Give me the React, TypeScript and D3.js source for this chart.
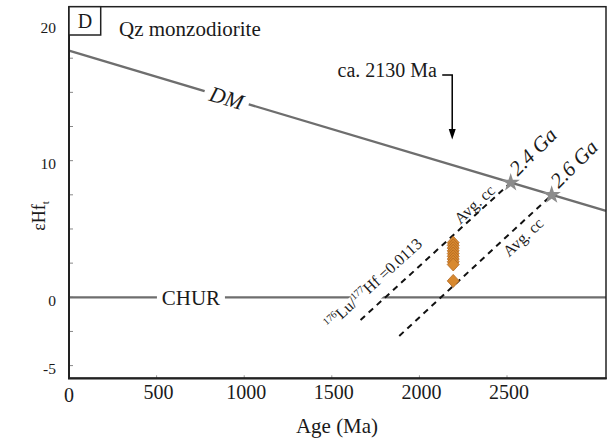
import React from "react";
import * as d3 from "d3";

// ---- data ----
const X_TICKS = [0, 500, 1000, 1500, 2000, 2500];
const Y_TICK_LABELS = [-5, 0, 10, 20];
const Y_MINOR_TICKS = [-5, -2.5, 0, 2.5, 5, 7.5, 10, 12.5, 15, 17.5, 20];
const X_DOMAIN = [0, 3065];
const Y_DOMAIN = [-5.93, 21.27];
const DM_AGE = [0, 3065];
const DM_EHF = [18.05, 6.32];
const CHUR_AGE = [0, 3065];
const CHUR_EHF = [0, 0];
const CC_A_AGE = [1664, 2521];
const CC_A_EHF = [-1.66, 8.39];
const CC_B_AGE = [1885, 2755];
const CC_B_EHF = [-2.83, 7.49];
const STAR_AGE = [2521, 2755];
const STAR_EHF = [8.39, 7.49];
const STAR_LABELS = ["2.4 Ga", "2.6 Ga"];
const SAMPLE_AGE = 2193;
const SAMPLE_EHF = [4.0, 3.8, 3.6, 3.4, 3.2, 3.0, 2.8, 2.6, 2.4, 1.2];

const W = 614;
const H = 443;
const FONT = "'Liberation Serif', 'Times New Roman', serif";
const INK = "#1a1a1a";
const LINE_GRAY = "#6e6e6e";

const x = d3.scaleLinear().domain(X_DOMAIN).range([69, 606]);
const y = d3.scaleLinear().domain(Y_DOMAIN).range([378.3, 6.7]);
const line = d3
  .line<[number, number]>()
  .x((d) => x(d[0]))
  .y((d) => y(d[1]));
const zip = (a: number[], b: number[]): [number, number][] =>
  a.map((v, i) => [v, b[i]] as [number, number]);

// point along a line at a given age, with perpendicular offset (positive = upper side)
function along(ages: number[], vals: number[], age: number, offset: number) {
  const x0 = x(ages[0]), y0 = y(vals[0]);
  const x1 = x(ages[1]), y1 = y(vals[1]);
  const t = (age - ages[0]) / (ages[1] - ages[0]);
  const dx = x1 - x0, dy = y1 - y0;
  const len = Math.hypot(dx, dy);
  const ux = dx / len, uy = dy / len;
  const nx = uy, ny = -ux;
  const sgn = ny < 0 ? 1 : -1;
  return {
    px: x0 + t * dx + sgn * offset * nx,
    py: y0 + t * dy + sgn * offset * ny,
    angle: (Math.atan2(dy, dx) * 180) / Math.PI,
  };
}

export default function App() {
  const dmLab = along(DM_AGE, DM_EHF, 900, 0);
  const churLab = along(CHUR_AGE, CHUR_EHF, 696, 0);
  const luLab = along(CC_A_AGE, CC_A_EHF, 1807, 13);
  const ccA = along(CC_A_AGE, CC_A_EHF, 2347, 8.7);
  const ccB = along(CC_B_AGE, CC_B_EHF, 2547, -11.3);
  const starPath = d3.symbol(d3.symbolStar, 105)() as string;
  const ax = x(SAMPLE_AGE) - 1;

  return (
    <svg
      width={W}
      height={H}
      style={{ position: "absolute", left: 0, top: 0, background: "#fff" }}
      fontFamily={FONT}
    >
      <rect x={0} y={0} width={W} height={H} fill="#fff" />

      {/* y ticks */}
      {Y_MINOR_TICKS.map((t) => (
        <line key={"yt" + t} x1={x(0)} x2={x(0) + 4} y1={y(t)} y2={y(t)} stroke="#888" strokeWidth={1} />
      ))}
      {Y_TICK_LABELS.map((t) => (
        <text key={"yl" + t} x={56} y={y(t) + 4} dy="0.3em" textAnchor="end" fontSize={15.5} fill={INK}>
          {t}
        </text>
      ))}
      {/* x ticks */}
      {X_TICKS.filter((t) => t > 0).map((t) => (
        <line key={"xt" + t} x1={x(t)} x2={x(t)} y1={y(Y_DOMAIN[0])} y2={y(Y_DOMAIN[0]) - 3} stroke="#999" strokeWidth={1} />
      ))}
      {X_TICKS.map((t) => (
        <text key={"xl" + t} x={x(t) + (t === 0 ? 0 : 2)} y={t === 0 ? 401.5 : 399} textAnchor="middle" fontSize={20} fill={INK}>
          {t}
        </text>
      ))}

      {/* reference lines */}
      <path d={line(zip(CHUR_AGE, CHUR_EHF)) as string} stroke={LINE_GRAY} strokeWidth={2.3} fill="none" />
      <path d={line(zip(DM_AGE, DM_EHF)) as string} stroke={LINE_GRAY} strokeWidth={2.3} fill="none" />

      {/* DM label */}
      <g transform={`translate(${dmLab.px},${dmLab.py}) rotate(${dmLab.angle})`}>
        <rect x={-23} y={-10} width={46} height={20} fill="#fff" />
        <text x={0} y={0} dy="0.35em" textAnchor="middle" fontSize={22} fontStyle="italic" fill={INK}>
          DM
        </text>
      </g>
      {/* CHUR label */}
      <g transform={`translate(${churLab.px},${churLab.py})`}>
        <rect x={-34} y={-9} width={68} height={18} fill="#fff" />
        <text x={0} y={0} dy="0.35em" textAnchor="middle" fontSize={21} fill={INK}>
          CHUR
        </text>
      </g>
      {/* Lu/Hf label */}
      <g transform={`translate(${luLab.px},${luLab.py}) rotate(${luLab.angle})`}>
        <rect x={-65} y={-11} width={130} height={22} fill="#fff" />
        <text x={0} y={0} dy="0.35em" textAnchor="middle" fontSize={16} fill={INK}>
          <tspan fontSize={10} dy={-6}>176</tspan>
          <tspan dy={6}>Lu/</tspan>
          <tspan fontSize={10} dy={-6}>177</tspan>
          <tspan dy={6}>Hf =0.0113</tspan>
        </text>
      </g>

      {/* crustal evolution lines */}
      <path d={line(zip(CC_A_AGE, CC_A_EHF)) as string} stroke="#111" strokeWidth={2} strokeDasharray="6,5" fill="none" />
      <path d={line(zip(CC_B_AGE, CC_B_EHF)) as string} stroke="#111" strokeWidth={2} strokeDasharray="6,5" fill="none" />

      <text transform={`translate(${ccA.px},${ccA.py}) rotate(${ccA.angle})`} dy="0.35em" textAnchor="middle" fontSize={16} fill={INK}>
        Avg. cc
      </text>
      <text transform={`translate(${ccB.px},${ccB.py}) rotate(${ccB.angle})`} dy="0.35em" textAnchor="middle" fontSize={16} fill={INK}>
        Avg. cc
      </text>

      {/* stars */}
      {STAR_AGE.map((a, i) => (
        <g key={"st" + i}>
          <path d={starPath} transform={`translate(${x(a)},${y(STAR_EHF[i])})`} fill="#8c8c8c" />
          <text
            transform={`translate(${x(a) + 7},${y(STAR_EHF[i]) - 6}) rotate(-45)`}
            fontSize={21}
            fontStyle="italic"
            fill={INK}
          >
            {STAR_LABELS[i]}
          </text>
        </g>
      ))}

      {/* samples */}
      {SAMPLE_EHF.map((v, i) => {
        const cx = x(SAMPLE_AGE);
        const cy = y(v);
        return (
          <polygon
            key={"s" + i}
            points={`${cx},${cy - 6.5} ${cx + 6},${cy} ${cx},${cy + 6.5} ${cx - 6},${cy}`}
            fill="#D8892F"
            stroke="#B0661F"
            strokeWidth={0.8}
          />
        );
      })}

      {/* arrow annotation */}
      <text x={437} y={77} textAnchor="end" fontSize={20} fill={INK}>
        ca. 2130 Ma
      </text>
      <path d={`M${ax - 10},75 H${ax} V131`} stroke="#000" strokeWidth={1.5} fill="none" />
      <path d={`M${ax - 3.5},129 L${ax + 3.5},129 L${ax},139.5 Z`} fill="#000" />

      {/* frame */}
      <rect x={69} y={6.7} width={537} height={371.6} fill="none" stroke="#222" strokeWidth={1.5} />
      <line x1={69} x2={69} y1={6.7} y2={379} stroke="#222" strokeWidth={2} />
      <line x1={68} x2={606.7} y1={378.3} y2={378.3} stroke="#222" strokeWidth={2.2} />

      {/* panel label */}
      <rect x={69} y={6.7} width={31.7} height={28.3} fill="#fff" stroke="#222" strokeWidth={1.5} />
      <text x={85} y={28} textAnchor="middle" fontSize={20} fill={INK}>
        D
      </text>
      <text x={119} y={36} fontSize={21} fill={INK}>
        Qz monzodiorite
      </text>

      {/* axis titles */}
      <text x={337} y={433} textAnchor="middle" fontSize={21} fill={INK}>
        Age (Ma)
      </text>
      <text transform={`translate(45,216) rotate(-90)`} textAnchor="middle" fontSize={18} fill={INK}>
        εHf
        <tspan fontSize={11} dy={4}>t</tspan>
      </text>
    </svg>
  );
}
